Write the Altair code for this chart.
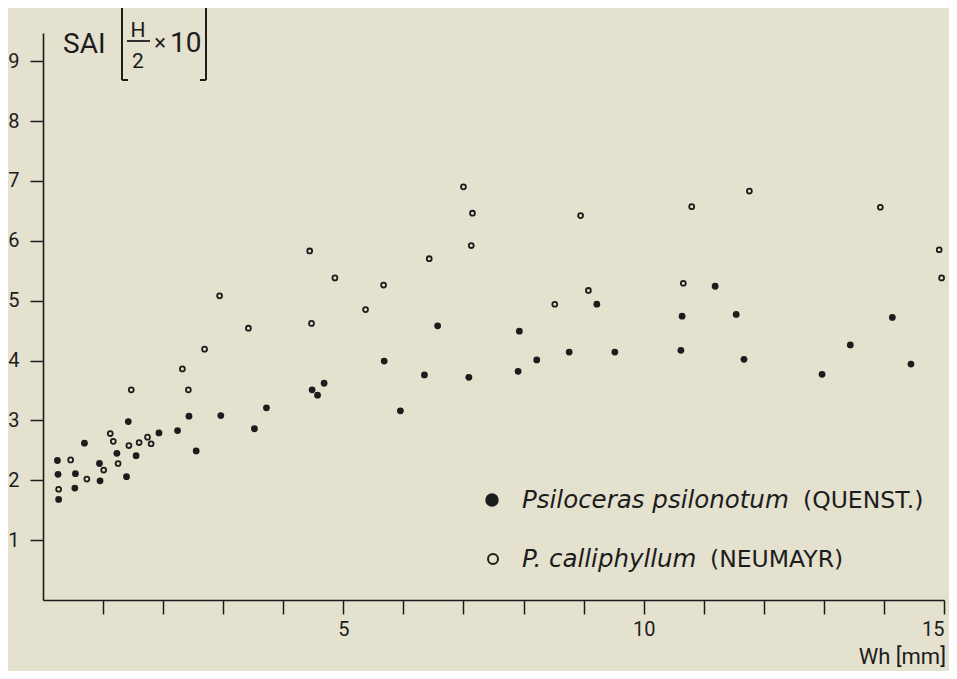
import altair as alt
import pandas as pd

# Psiloceras psilonotum (filled)
psi_x = [0.24, 0.25, 0.26, 0.54, 0.53, 0.69, 0.94, 0.95, 1.23, 1.39, 1.42, 1.55,
         1.93, 2.24, 2.43, 2.55, 2.96, 3.52, 3.72, 4.48, 4.57, 4.68, 5.68, 5.95,
         6.35, 6.57, 7.09, 7.91, 7.93, 8.22, 8.76, 9.22, 9.52, 10.62, 10.64, 11.19,
         11.54, 11.67, 12.97, 13.44, 14.14, 14.45]
psi_y = [2.33, 2.10, 1.68, 2.11, 1.87, 2.62, 2.28, 1.99, 2.45, 2.06, 2.98, 2.41,
         2.79, 2.83, 3.07, 2.49, 3.08, 2.86, 3.21, 3.51, 3.42, 3.62, 3.99, 3.16,
         3.76, 4.58, 3.72, 3.82, 4.49, 4.01, 4.14, 4.94, 4.14, 4.17, 4.74, 5.24,
         4.77, 4.02, 3.77, 4.26, 4.72, 3.94]

# P. calliphyllum (open)
cal_x = [0.26, 0.46, 0.73, 1.01, 1.12, 1.17, 1.25, 1.43, 1.47, 1.60, 1.74, 1.80,
         2.32, 2.42, 2.69, 2.94, 3.42, 4.44, 4.47, 4.86, 5.37, 5.67, 6.43, 7.00,
         7.15, 7.13, 8.52, 8.95, 9.08, 10.66, 10.80, 11.76, 13.94, 14.92, 14.96]
cal_y = [1.85, 2.34, 2.02, 2.17, 2.78, 2.65, 2.28, 2.58, 3.51, 2.63, 2.72, 2.61,
         3.86, 3.51, 4.19, 5.08, 4.54, 5.83, 4.62, 5.38, 4.85, 5.26, 5.70, 6.90,
         6.46, 5.92, 4.94, 6.42, 5.17, 5.29, 6.57, 6.83, 6.56, 5.85, 5.38]

x_ticks = list(range(1, 16))
y_ticks = list(range(1, 10))

INK = "#1c1c1c"
FONT = "Roboto"
LFONT = "DejaVu Sans"

psi = pd.DataFrame({"x": psi_x, "y": psi_y})
cal = pd.DataFrame({"x": cal_x, "y": cal_y})

xs = alt.Scale(domain=[0, 15], nice=False, zero=False)
ys = alt.Scale(domain=[0, 9.47], nice=False, zero=False)

x_axis = alt.Axis(values=x_ticks, title=None, grid=False, format="d",
                  labelExpr="datum.value % 5 == 0 ? datum.label : ''",
                  tickSize=14, labelPadding=5, labelFontSize=20)
y_axis = alt.Axis(values=y_ticks, title=None, grid=False, format="d",
                  tickSize=13, labelPadding=11, labelFontSize=20)

filled = alt.Chart(psi).mark_point(filled=True, shape="circle", size=46,
                                   color=INK, opacity=1).encode(
    x=alt.X("x:Q", scale=xs, axis=x_axis),
    y=alt.Y("y:Q", scale=ys, axis=y_axis),
)
opened = alt.Chart(cal).mark_point(filled=False, shape="circle", size=24,
                                   color=INK, strokeWidth=1.8, opacity=1).encode(
    x=alt.X("x:Q", scale=xs),
    y=alt.Y("y:Q", scale=ys),
)

dummy = pd.DataFrame({"a": [0]})

def txt(s, x, y, size, style="normal", align="left", baseline="alphabetic", font=FONT):
    return alt.Chart(dummy).mark_text(text=s, font=font, fontSize=size, fontStyle=style,
                                      align=align, baseline=baseline, color=INK).encode(
        x=alt.value(x), y=alt.value(y))

def rule(x1, y1, x2, y2, w=2):
    return alt.Chart(dummy).mark_rule(color=INK, strokeWidth=w).encode(
        x=alt.value(x1), y=alt.value(y1), x2=alt.value(x2), y2=alt.value(y2))

# y title: SAI [H/2 x 10]
title_layers = [
    txt("SAI", 20, 20, 28),
    rule(79, -26, 79, 47), rule(79, -26, 85, -26), rule(79, 47, 85, 47),
    txt("H", 95, 4, 21, align="center"),
    rule(84, 8, 107, 8, 1.8),
    txt("2", 95, 35, 21, align="center"),
    txt("×", 117, 10, 22, align="center", baseline="middle"),
    txt("10", 127, 19, 28),
    rule(163, -26, 163, 47), rule(157, -26, 163, -26), rule(157, 47, 163, 47),
]

# x title
xtitle = txt("Wh [mm]", 903, 631, 22, align="right")

# legend
legend_layers = [
    alt.Chart(dummy).mark_point(filled=True, shape="circle", size=180, color=INK,
                                opacity=1).encode(x=alt.value(449), y=alt.value(467)),
    txt("Psiloceras psilonotum", 479, 475, 24.5, style="italic", font=LFONT),
    txt("(QUENST.)", 760, 475, 23.5, font=LFONT),
    alt.Chart(dummy).mark_point(filled=False, shape="circle", size=100, color=INK,
                                strokeWidth=2, opacity=1).encode(x=alt.value(450), y=alt.value(526)),
    txt("P. calliphyllum", 479, 534, 24.5, style="italic", font=LFONT),
    txt("(NEUMAYR)", 667, 534, 23.5, font=LFONT),
]

chart = alt.layer(filled, opened, *title_layers, xtitle, *legend_layers).properties(
    width=901, height=567,
    autosize=alt.AutoSizeParams(type="none"),
    padding={"left": 35, "top": 25, "right": 5, "bottom": 71},
    background="#e5e1cf",
).configure_view(stroke=None).configure_axis(
    domainColor=INK, domainWidth=1.6, tickColor=INK, tickWidth=1.5,
    labelColor=INK, labelFont=FONT,
)

chart.save("out.html", embed_options={"renderer": "svg", "actions": False})
